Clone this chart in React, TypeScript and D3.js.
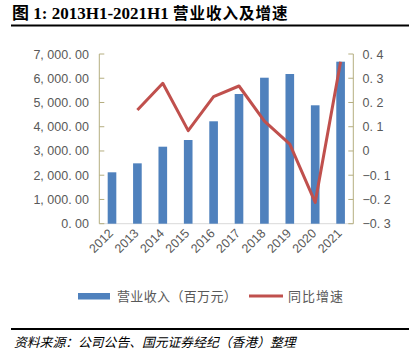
import React from "react";
import * as d3 from "d3";

const years = ["2012", "2013", "2014", "2015", "2016", "2017", "2018", "2019", "2020", "2021"];
const revenue = [2120, 2490, 3176, 3452, 4224, 5350, 6022, 6175, 4884, 6683];
const growth: (number | null)[] = [null, 0.169, 0.279, 0.084, 0.224, 0.268, 0.123, 0.028, -0.212, 0.368];
const leftTicks = [0, 1000, 2000, 3000, 4000, 5000, 6000, 7000];
const leftTickLabels = ["0. 00", "1, 000. 00", "2, 000. 00", "3, 000. 00", "4, 000. 00", "5, 000. 00", "6, 000. 00", "7, 000. 00"];
const rightTicks = [-0.3, -0.2, -0.1, 0, 0.1, 0.2, 0.3, 0.4];
const rightTickLabels = ["−0. 3", "−0. 2", "−0. 1", "0", "0. 1", "0. 2", "0. 3", "0. 4"];
const titleLatin = "图 1: 2013H1-2021H1 ";
const titleCjk = "营业收入及增速";
const legendBar = "营业收入（百万元）";
const legendLine = "同比增速";
const source = "资料来源：公司公告、国元证券经纪（香港）整理";

export default function App() {
  const W = 409, H = 358;
  const left = 99.3, right = 353.3, top = 54, bottom = 223.7;
  const x = d3.scaleBand<string>().domain(years).range([left, right]).paddingInner(0.66).paddingOuter(0.33);
  const yL = d3.scaleLinear().domain([0, 7000]).range([bottom, top]);
  const yR = d3.scaleLinear().domain([-0.3, 0.4]).range([bottom, top]);
  const line = d3
    .line<number | null>()
    .defined((d) => d !== null)
    .x((_, i) => (x(years[i]) as number) + x.bandwidth() / 2)
    .y((d) => yR(d as number));
  const axisColor = "#b5ae80";
  const textColor = "#595959";
  const font = "Liberation Sans, Arial, 'Noto Sans CJK SC', sans-serif";
  return (
    <svg width={W} height={H} style={{ position: "absolute", left: 0, top: 0, background: "#fff" }}>
      <text x={12} y={19} fontFamily="'Liberation Serif', 'Noto Sans CJK SC', serif" fontWeight="bold" fontSize={17} fill="#000">
        {titleLatin}
        <tspan fontSize={15.5} fontWeight="normal" letterSpacing={1} style={{ fontWeight: 700 }}>{titleCjk}</tspan>
      </text>
      <line x1={11} x2={409} y1={25.5} y2={25.5} stroke="#000" strokeWidth={2} />
      {/* bottom axis */}
      <line x1={left} x2={right} y1={bottom} y2={bottom} stroke="#d9d9d9" strokeWidth={1} />
      {revenue.map((v, i) => (
        <rect key={i} x={x(years[i])} y={yL(v)} width={x.bandwidth()} height={bottom - yL(v)} fill="#4f81bd" />
      ))}
      {/* left axis */}
      <line x1={left} x2={left} y1={top} y2={bottom} stroke={axisColor} strokeWidth={1} />
      {leftTicks.map((t, i) => (
        <g key={i}>
          <line x1={left} x2={left + 5} y1={yL(t)} y2={yL(t)} stroke={axisColor} />
          <text x={89} y={yL(t) + 4.5} textAnchor="end" fontFamily={font} fontSize={12.5} fill={textColor}>
            {leftTickLabels[i]}
          </text>
        </g>
      ))}
      {/* right axis */}
      <line x1={right} x2={right} y1={top} y2={bottom} stroke={axisColor} strokeWidth={1} />
      {rightTicks.map((t, i) => (
        <g key={i}>
          <line x1={right - 5} x2={right} y1={yR(t)} y2={yR(t)} stroke={axisColor} />
          <text x={362.5} y={yR(t) + 4.5} textAnchor="start" fontFamily={font} fontSize={12.5} fill={textColor}>
            {rightTickLabels[i]}
          </text>
        </g>
      ))}
      <path d={line(growth) || ""} fill="none" stroke="#c0504d" strokeWidth={3} strokeLinejoin="round" />
      {years.map((yv, i) => {
        const cx = (x(yv) as number) + x.bandwidth() / 2 + 2;
        const cy = 234;
        return (
          <text key={i} x={cx} y={cy} transform={`rotate(-45 ${cx} ${cy})`} textAnchor="end" fontFamily={font} fontSize={12.5} fill={textColor}>
            {yv}
          </text>
        );
      })}
      {/* legend */}
      <rect x={78} y={293} width={32} height={6.5} fill="#4f81bd" />
      <text x={117} y={301} fontFamily={font} fontSize={13} letterSpacing={0.35} fill={textColor}>
        {legendBar}
      </text>
      <line x1={249} x2={283} y1={296} y2={296} stroke="#c0504d" strokeWidth={3} />
      <text x={288} y={301} fontFamily={font} fontSize={13} letterSpacing={1} fill={textColor}>
        {legendLine}
      </text>
      <line x1={11} x2={409} y1={329} y2={329} stroke="#000" strokeWidth={2} />
      <text x={14} y={347} fontFamily="'Noto Sans CJK SC', sans-serif" fontStyle="italic" fontSize={12.8} fill="#000">
        {source}
      </text>
    </svg>
  );
}
